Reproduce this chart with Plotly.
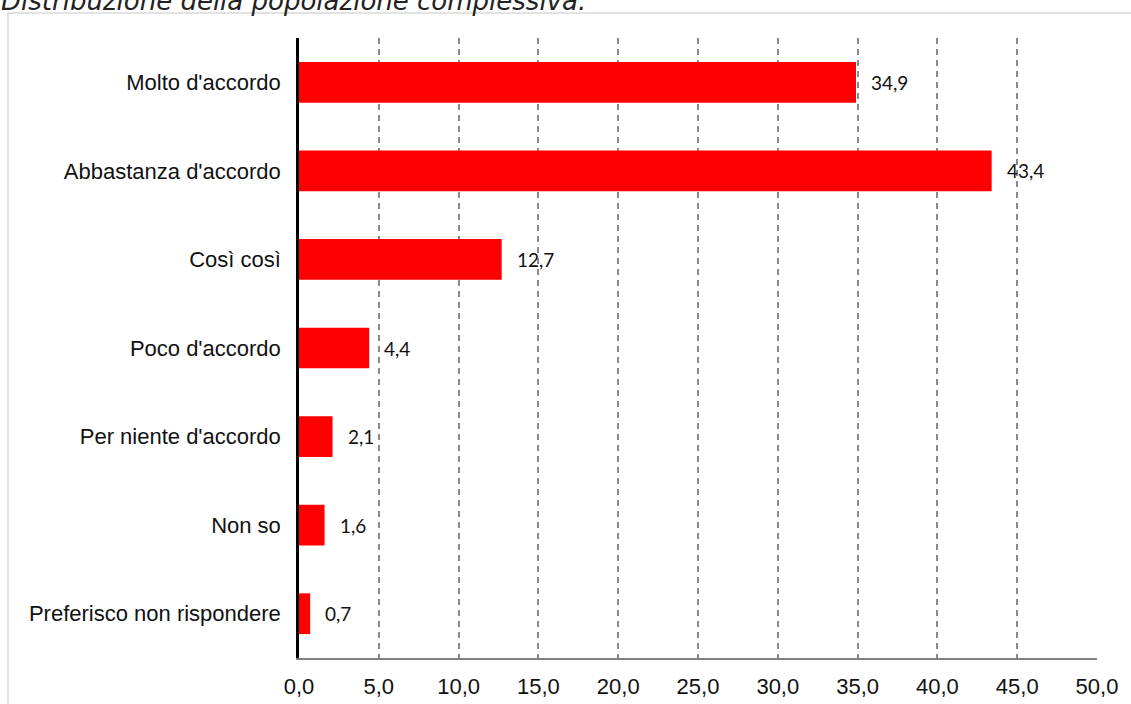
import plotly.graph_objects as go

categories = ["Molto d'accordo", "Abbastanza d'accordo", "Così così", "Poco d'accordo",
              "Per niente d'accordo", "Non so", "Preferisco non rispondere"]
values = [34.9, 43.4, 12.7, 4.4, 2.1, 1.6, 0.7]
tick_vals = [0, 5, 10, 15, 20, 25, 30, 35, 40, 45, 50]
tick_text = ["0,0", "5,0", "10,0", "15,0", "20,0", "25,0", "30,0", "35,0", "40,0", "45,0", "50,0"]
title_text = "Distribuzione della popolazione complessiva."

W, H = 1131, 704
L, R, T, B = 299, 34, 38, 46
pw, ph = W - L - R, H - T - B

fig = go.Figure()
fig.add_trace(go.Bar(
    y=categories, x=values, orientation="h",
    marker=dict(color="#ff0000", line=dict(width=0)),
    width=0.46, hoverinfo="x+y",
))

for c, v in zip(categories, values):
    fig.add_annotation(x=v, y=c, text=f"{v:.1f}".replace(".", ","), showarrow=False,
                       xanchor="left", xshift=13,
                       font=dict(family="Lato, Open Sans, sans-serif", size=19, color="#111"))

def px_x(p):
    return (p - L) / pw

def px_y(p):
    return (H - B - p) / ph

# outer border
fig.add_shape(type="rect", xref="paper", yref="paper",
              x0=px_x(8), x1=px_x(1140), y0=px_y(713), y1=px_y(13),
              line=dict(color="#d9d9d9", width=1.5), layer="below")

fig.add_annotation(xref="paper", yref="paper", x=px_x(-1), y=px_y(1), xanchor="left", yanchor="middle",
                   text=f"<i>{title_text}</i>", showarrow=False,
                   font=dict(family="DejaVu Sans", size=26, color="#222"))

fig.update_layout(
    width=W, height=H,
    margin=dict(l=L, r=R, t=T, b=B, pad=0, autoexpand=False),
    paper_bgcolor="white", plot_bgcolor="white",
    showlegend=False,
    bargap=0.54,
    xaxis=dict(range=[0, 50], tickvals=tick_vals, ticktext=tick_text, automargin=False,
               showgrid=True, gridcolor="#8a8a8a", griddash="6px,5px", gridwidth=1.5,
               zeroline=False, showline=True, linecolor="#808080", linewidth=2,
               ticks="", ticklen=0, ticklabelstandoff=8,
               tickfont=dict(family="Liberation Sans, Arial", size=22, color="#111"),
               fixedrange=True),
    yaxis=dict(autorange="reversed", categoryorder="array", categoryarray=categories, automargin=False,
               showgrid=False, zeroline=False, showline=True, linecolor="black", linewidth=2.5,
               ticks="", ticklabelstandoff=11,
               tickfont=dict(family="Liberation Sans, Arial", size=22, color="#111")),
)

fig.write_html("out.html", config={"displayModeBar": False},
               post_script="document.body.style.margin='0';")
